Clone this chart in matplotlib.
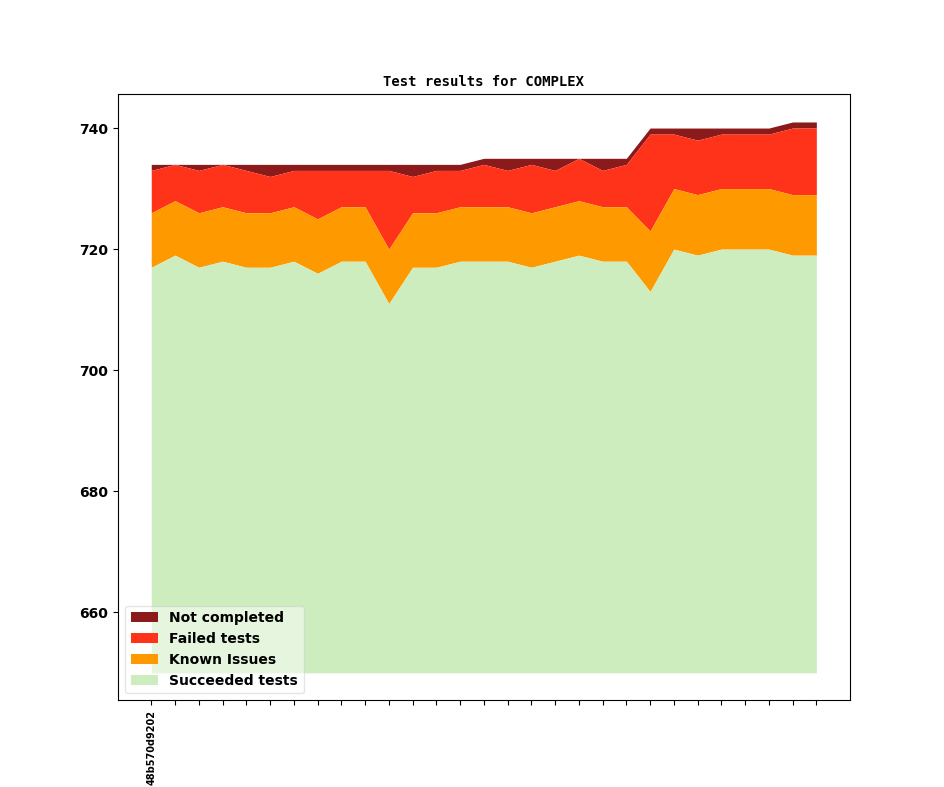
import matplotlib
matplotlib.use("Agg")
import matplotlib.pyplot as plt
import numpy as np

# builds (one commit per point, only the first one is labelled)
labels = ["48b570d9202"] + [""] * 28

succeeded = [717, 719, 717, 718, 717, 717, 718, 716, 718, 718, 711, 717, 717, 718, 718,
             718, 717, 718, 719, 718, 718, 713, 720, 719, 720, 720, 720, 719, 719]
known = [9, 9, 9, 9, 9, 9, 9, 9, 9, 9, 9, 9, 9, 9, 9,
         9, 9, 9, 9, 9, 9, 10, 10, 10, 10, 10, 10, 10, 10]
failed = [7, 6, 7, 7, 7, 6, 6, 8, 6, 6, 13, 6, 7, 6, 7,
          6, 8, 6, 7, 6, 7, 16, 9, 9, 9, 9, 9, 11, 11]
not_completed = [1, 0, 1, 0, 1, 2, 1, 1, 1, 1, 1, 2, 1, 1, 1,
                 2, 1, 2, 0, 2, 1, 1, 1, 2, 1, 1, 1, 1, 1]
baseline = 650

x = np.arange(len(labels))
s = np.array(succeeded)
k = s + np.array(known)
f = k + np.array(failed)
n = f + np.array(not_completed)

fig, ax = plt.subplots(figsize=(9.44, 7.87), dpi=100)

ax.fill_between(x, f, n, color="#8b1a1a", linewidth=0, label="Not completed")
ax.fill_between(x, k, f, color="#ff331a", linewidth=0, label="Failed tests")
ax.fill_between(x, s, k, color="#ff9900", linewidth=0, label="Known Issues")
ax.fill_between(x, baseline, s, color="#ceedbe", linewidth=0, label="Succeeded tests")

ax.set_title("Test results for COMPLEX", fontsize=10, fontweight="bold", family="DejaVu Sans Mono")
ax.set_xticks(x)
ax.set_xticklabels(labels, rotation=90, fontsize=7, fontweight="bold")
for t in ax.get_yticklabels():
    t.set_fontweight("bold")
ax.tick_params(axis="y", labelsize=10)

ax.legend(loc="lower left", prop={"weight": "bold", "size": 10}, framealpha=0.5)

fig.savefig("out.png", dpi=100)
